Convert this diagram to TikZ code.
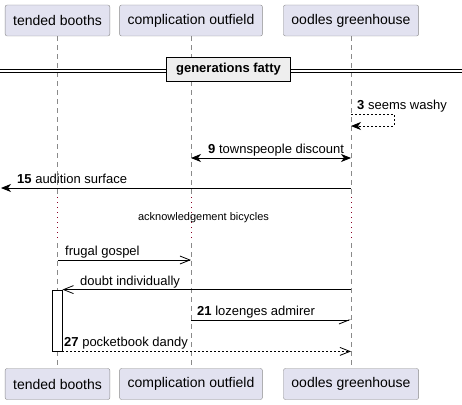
\documentclass[tikz,border=0pt]{standalone}
\usepackage{fontspec}
\setmainfont{Liberation Sans}
\usetikzlibrary{arrows.meta}
\definecolor{partfill}{HTML}{E2E2F0}
\definecolor{partline}{HTML}{8A8A8A}
\definecolor{delayred}{HTML}{8B0026}
\definecolor{divfill}{HTML}{EEEEEE}

\begin{document}
\begin{tikzpicture}[x=1pt,y=-1pt,
    part/.style={draw=partline,fill=partfill,rounded corners=2pt,minimum height=31pt,inner xsep=8pt,font=\fontsize{14}{16}\selectfont},
    life/.style={draw=partline,line width=0.7pt,dash pattern=on 5pt off 4pt},
    msg/.style={font=\fontsize{13}{15}\selectfont,anchor=base west,inner sep=0pt},
    filltip/.style={-{Stealth[length=10pt,width=8pt,inset=3pt]}},
    opentip/.style={-{Straight Barb[length=10pt,width=8pt]}},
    halftip/.style={-{Straight Barb[length=10pt,width=8pt,right]}}]
  \useasboundingbox (0,0) rectangle (462,404);
  % participants
  \node [part] (tb) at (57.5,20.5) {tended booths};
  \node [part] (co) at (191,20.5) {complication outfield};
  \node [part] (og) at (351,20.5) {oodles greenhouse};
  \node [part] (tbl) at (57.5,384) {tended booths};
  \node [part] (col) at (191,384) {complication outfield};
  \node [part] (ogl) at (351,384) {oodles greenhouse};
  \foreach \p/\q in {tb/tbl,co/col,og/ogl} {
    \draw [life] (\p.south) -- (\p |- 0,194);
    \draw [delayred, line width=0.8pt, dash pattern=on 1pt off 4pt] (\p |- 0,197) -- (\p |- 0,240);
    \draw [life] (\p |- 0,243) -- (\q.north);
  }
  % divider
  \draw [line width=0.8pt] (0,69) -- (462,69);
  \draw [line width=0.8pt] (0,72) -- (462,72);
  \node [draw, line width=1.6pt, fill=divfill, minimum width=124pt, minimum height=24pt, font=\fontsize{13}{15}\selectfont\bfseries] (gf) at (228.5,69.5) {generations fatty};
  % messages
  \coordinate (s3a) at (og |- 0,114);
  \coordinate (s3b) at (og |- 0,126);
  \draw [filltip, line width=0.8pt, dash pattern=on 2pt off 2pt] (s3a) -- ++(43,0) |- (s3b);
  \node [msg] (l3) at (357,109) {\textbf{3} seems washy};
  \coordinate (m9a) at (co |- 0,158);
  \coordinate (m9b) at (og |- 0,158);
  \draw [{Stealth[length=10pt,width=8pt,inset=3pt]}-{Stealth[length=10pt,width=8pt,inset=3pt]}, line width=0.8pt] (m9a) -- (m9b);
  \node [msg] (l9) at (208,153) {\textbf{9} townspeople discount};
  \coordinate (m15a) at (og |- 0,188);
  \coordinate (m15b) at (1,188);
  \draw [filltip, line width=0.8pt] (m15a) -- (m15b);
  \node [msg] (l15) at (17,183) {\textbf{15} audition surface};
  \node [font=\fontsize{11}{13}\selectfont, anchor=base, inner sep=0pt] (dl) at (203.5,220.5) {acknowledgement bicycles};
  \coordinate (m17a) at (tb |- 0,260);
  \coordinate (m17b) at (co |- 0,260);
  \draw [opentip, line width=0.8pt] (m17a) -- (m17b);
  \node [msg] (l17) at (65,255) {frugal gospel};
  \node [draw, fill=white, line width=0.8pt, minimum width=10pt, minimum height=61pt, inner sep=0pt] (act) at (57,320.5) {};
  \draw [opentip, line width=0.8pt] (og |- act.north east) -- (act.north east);
  \node [msg] (l19) at (80,285) {doubt individually};
  \coordinate (m21a) at (co |- 0,320);
  \coordinate (m21b) at (og |- 0,320);
  \draw [halftip, line width=0.8pt] (m21a) -- (m21b);
  \node [msg] (l21) at (197,315) {\textbf{21} lozenges admirer};
  \draw [opentip, line width=0.8pt, dash pattern=on 2pt off 2pt] (act.south east) -- (og |- act.south east);
  \node [msg] (l27) at (64,346) {\textbf{27} pocketbook dandy};
\end{tikzpicture}
\end{document}
